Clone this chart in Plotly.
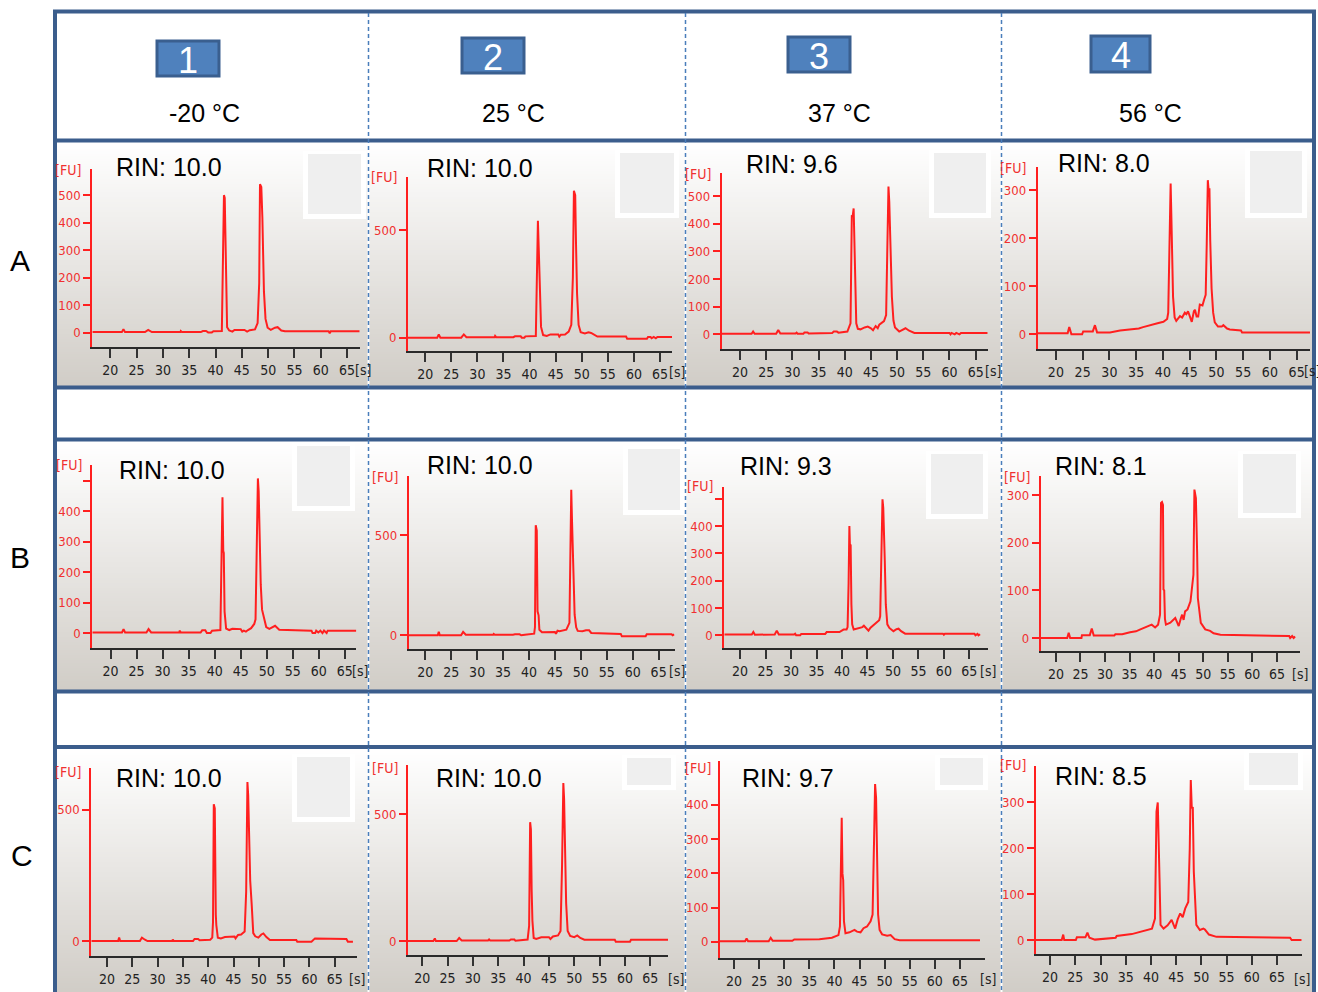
import base64, struct, zlib
import plotly.graph_objects as go

W, H = 1318, 992

# ---------------- data ----------------
row_labels = ["A", "B", "C"]
col_numbers = ["1", "2", "3", "4"]
temperatures = ["-20 °C", "25 °C", "37 °C", "56 °C"]
rin_values = {
    "A1": "10.0", "A2": "10.0", "A3": "9.6", "A4": "8.0",
    "B1": "10.0", "B2": "10.0", "B3": "9.3", "B4": "8.1",
    "C1": "10.0", "C2": "10.0", "C3": "9.7", "C4": "8.5",
}
x_tick_values = [20, 25, 30, 35, 40, 45, 50, 55, 60, 65]
y_tick_values = {
    "A1": [0, 100, 200, 300, 400, 500], "A2": [0, 500], "A3": [0, 100, 200, 300, 400, 500], "A4": [0, 100, 200, 300],
    "B1": [0, 100, 200, 300, 400, 500], "B2": [0, 500], "B3": [0, 100, 200, 300, 400, 500], "B4": [0, 100, 200, 300],
    "C1": [0, 500], "C2": [0, 500], "C3": [0, 100, 200, 300, 400], "C4": [0, 100, 200, 300],
}
y_tick_text = {
    "B1": ["0", "100", "200", "300", "400", ""],
    "B3": ["0", "100", "200", "300", "400", ""],
}

# electropherograms: (time [s], fluorescence [FU])
trace_A1 = [(16.6,2),(22.2,2),(22.5,13),(22.8,2),(26.6,2),(27.2,10),(27.9,2),(33.3,2),(33.4,6),(33.6,2),
            (37.2,2),(37.6,6),(38.2,6),(38.6,1),(39.3,1),(39.6,5),(41.2,6),(41.4,260),(41.6,500),(41.75,490),
            (41.85,350),(42.0,120),(42.2,20),(42.6,8),(43.2,4),(43.6,10),(45.5,10),(46.0,4),(46.5,9),(47.5,12),
            (48.0,35),(48.3,180),(48.45,540),(48.7,530),(48.9,420),(49.2,150),(49.5,50),(49.9,18),(50.5,10),
            (51.3,18),(51.8,20),(52.5,8),(53.2,5),(61.5,5),(61.7,-2),(61.9,5),(67.4,5)]
trace_A2 = [(16.7,0),(22.3,0),(22.6,15),(22.9,0),(26.9,0),(27.4,15),(27.9,2),(33.3,2),(33.4,8),(33.6,2),
            (36.9,2),(37.2,6),(38.3,6),(38.5,0),(39.0,0),(39.2,6),(41.2,8),(41.45,400),(41.6,543),(41.75,420),
            (41.85,306),(42.0,120),(42.2,50),(42.6,12),(43.3,8),(44.0,15),(45.5,15),(45.7,5),(46.0,14),(46.8,15),
            (47.5,28),(48.0,60),(48.3,280),(48.5,683),(48.75,662),(48.9,440),(49.1,206),(49.4,59),(49.8,25),
            (50.6,20),(51.3,25),(51.8,22),(52.5,10),(53.0,5),(58.5,5),(58.7,-5),(62.5,-5),(62.7,3),(63.2,3),
            (63.4,-3),(63.8,3),(64.2,-3),(64.5,3),(67.3,3)]
trace_A3 = [(16.5,2),(22.2,2),(22.5,10),(22.8,2),(26.9,2),(27.3,16),(27.7,3),(30.6,3),(30.8,6),(31.0,2),
            (32.1,2),(32.3,7),(32.9,7),(33.1,3),(37.6,5),(37.9,10),(38.5,10),(38.8,6),(40.5,10),(41.1,40),
            (41.35,430),(41.5,425),(41.7,455),(41.85,280),(42.0,166),(42.2,40),(42.5,20),(43.0,18),(43.8,25),
            (44.4,28),(45.0,22),(45.4,15),(45.9,30),(46.3,22),(46.6,35),(46.9,40),(47.5,48),(47.9,70),(48.2,410),
            (48.35,534),(48.5,480),(48.65,380),(48.8,281),(49.0,136),(49.3,50),(49.6,25),(50.4,10),(51.2,20),
            (51.6,22),(52.3,13),(53.3,5),(60.0,5),(60.2,0),(60.4,5),(61.0,0),(61.3,5),(61.9,0),(62.2,5),(67.3,5)]
trace_A4 = [(16.6,2),(22.2,2),(22.5,15),(22.9,0),(24.9,0),(25.1,6),(26.9,6),(27.3,19),(27.7,4),(30.1,4),
            (32.0,8),(34.5,10),(35.5,12),(36.3,15),(37.3,18),(38.2,22),(39.0,23),(40.1,26),(40.8,32),(41.0,45),
            (41.2,196),(41.45,314),(41.6,238),(41.75,150),(41.9,78),(42.2,35),(42.5,28),(43.2,38),(43.6,35),
            (44.1,45),(44.4,42),(44.7,48),(45.1,35),(45.4,26),(45.8,48),(46.0,51),(46.3,37),(46.6,37),(46.9,62),
            (47.4,60),(47.7,72),(48.0,82),(48.2,189),(48.4,321),(48.55,300),(48.7,304),(48.85,196),(49.1,96),
            (49.4,45),(49.7,25),(50.3,16),(51.0,16),(51.3,19),(52.0,12),(52.5,10),(54.6,8),(54.8,4),(67.5,4)]
trace_B1 = [(16.5,2),(22.2,2),(22.5,13),(22.8,2),(26.9,2),(27.3,13),(27.8,2),(33.2,2),(33.3,8),(33.5,2),
            (37.3,2),(37.6,9),(38.2,9),(38.5,0),(39.2,0),(39.5,8),(41.1,10),(41.3,290),(41.5,446),(41.65,270),
            (41.75,263),(41.9,71),(42.2,15),(42.8,10),(43.4,14),(45.0,13),(45.3,5),(45.6,8),(46.0,5),(46.4,10),
            (47.0,16),(47.6,30),(47.85,45),(48.05,247),(48.3,508),(48.45,466),(48.6,307),(48.85,159),(49.1,77),
            (49.5,49),(49.9,20),(50.5,14),(51.2,22),(51.6,24),(52.4,11),(58.6,8),(58.8,0),(59.3,0),(59.5,8),
            (59.9,2),(60.3,8),(60.7,0),(61.0,8),(61.5,0),(61.7,8),(67.2,8)]
trace_B2 = [(16.8,0),(22.4,0),(22.6,17),(22.8,0),(26.9,0),(27.3,17),(27.8,3),(33.1,3),(33.2,7),(33.4,3),
            (36.9,3),(37.3,5),(38.2,5),(38.5,0),(39.2,3),(41.0,8),(41.15,40),(41.3,550),(41.5,523),(41.65,120),
            (41.85,100),(42.0,28),(42.5,15),(43.6,17),(45.0,17),(45.2,8),(45.5,23),(45.9,20),(46.3,23),(47.2,28),
            (47.8,62),(48.0,653),(48.15,728),(48.3,570),(48.45,400),(48.6,287),(48.8,103),(49.1,40),(49.4,22),
            (50.3,20),(51.0,25),(51.6,25),(52.0,12),(57.7,7),(57.9,-5),(62.5,-5),(62.7,5),(67.5,5),(67.7,0),(68.0,5)]
trace_B3 = [(16.9,3),(22.3,3),(22.6,12),(22.9,2),(26.8,3),(27.2,17),(27.6,3),(30.6,3),(30.8,6),(31.0,0),
            (31.8,0),(32.0,5),(36.7,5),(37.0,12),(39.5,12),(40.3,21),(40.9,21),(41.1,30),(41.3,192),(41.45,400),
            (41.55,333),(41.7,330),(41.85,113),(42.0,40),(42.3,21),(43.3,27),(44.0,30),(44.3,35),(44.8,25),
            (45.2,17),(45.6,28),(45.9,33),(46.4,40),(46.9,51),(47.3,55),(47.5,70),(47.75,253),(47.95,498),
            (48.1,467),(48.25,280),(48.4,272),(48.6,113),(48.9,40),(49.3,27),(50.1,15),(50.7,22),(51.1,24),
            (51.6,15),(52.1,9),(52.4,6),(59.8,6),(60.0,2),(60.2,6),(66.0,6),(66.2,0),(66.6,5),(66.8,0),(67.1,4)]
trace_B4 = [(16.9,0),(22.3,0),(22.6,11),(22.9,0),(25.2,0),(25.3,6),(26.9,6),(27.3,20),(27.7,5),(31.9,5),
            (32.1,8),(33.5,8),(35.1,12),(36.3,14),(37.2,18),(38.3,22),(38.9,25),(39.5,28),(40.2,22),(40.8,28),
            (41.2,49),(41.4,284),(41.6,286),(41.8,280),(41.9,102),(42.05,100),(42.2,40),(42.4,28),(43.3,32),
            (44.0,38),(44.3,42),(44.6,35),(45.0,25),(45.4,40),(45.7,49),(46.0,38),(46.3,56),(46.8,60),(47.4,77),
            (48.0,133),(48.2,312),(48.5,294),(48.6,182),(48.75,182),(48.9,84),(49.2,50),(49.5,32),(50.4,18),
            (51.0,17),(51.4,15),(52.1,10),(53.5,7),(67.5,4),(67.7,0),(68.1,4),(68.4,0),(68.7,3)]
trace_C1 = [(16.9,0),(22.2,0),(22.4,13),(22.6,0),(26.5,0),(26.9,13),(27.5,5),(28.0,0),(32.9,0),(33.0,6),
            (33.2,0),(37.0,0),(37.3,8),(38.0,8),(38.3,3),(40.4,5),(40.8,13),(40.95,74),(41.1,522),(41.3,506),
            (41.5,100),(41.6,61),(41.9,13),(42.5,10),(43.3,15),(45.2,17),(45.4,10),(45.9,23),(46.5,25),(47.2,36),
            (47.5,188),(47.75,606),(47.9,557),(48.1,328),(48.3,230),(48.6,137),(48.9,30),(49.3,18),(49.9,13),
            (50.5,25),(50.9,29),(51.5,15),(52.2,4),(57.4,4),(57.6,-3),(60.4,-3),(60.6,2),(61.1,10),(67.3,8),
            (67.6,-3),(68.6,-3)]
trace_C2 = [(17.2,0),(22.2,0),(22.5,10),(22.7,0),(26.8,0),(27.3,12),(27.8,2),(33.0,2),(33.2,6),(33.4,2),
            (37.2,2),(37.5,6),(38.2,6),(38.4,1),(40.8,6),(41.1,60),(41.3,468),(41.45,440),(41.6,200),(41.75,80),
            (42.0,12),(42.5,8),(43.5,15),(45.0,15),(45.3,8),(45.8,18),(46.8,22),(47.3,40),(47.6,300),(47.85,622),
            (48.0,560),(48.2,300),(48.4,150),(48.7,40),(49.2,20),(50.0,15),(50.6,22),(51.2,12),(52.0,5),(58.0,5),
            (58.2,-3),(61.0,-3),(61.2,5),(68.5,5)]
trace_C3 = [(17.2,2),(22.2,2),(22.5,10),(22.8,2),(26.9,2),(27.3,12),(27.7,3),(31.6,3),(32.0,7),(37.0,8),
            (39.5,12),(40.8,20),(41.1,45),(41.3,330),(41.45,362),(41.6,200),(41.75,180),(41.9,60),(42.2,25),
            (43.0,28),(44.0,35),(44.5,30),(45.2,28),(45.8,40),(46.5,45),(47.2,60),(47.6,80),(47.9,300),(48.1,461),
            (48.3,420),(48.5,200),(48.7,80),(49.0,35),(49.5,22),(50.5,18),(51.2,20),(52.0,8),(53.0,5),(69.0,5)]
trace_C4 = [(17.2,0),(22.3,0),(22.6,12),(22.8,0),(25.1,0),(25.3,6),(27.0,6),(27.4,16),(27.8,5),(28.9,1),
            (33.0,5),(33.2,9),(36.2,13),(38.5,20),(40.2,25),(40.8,47),(41.1,280),(41.35,300),(41.5,200),
            (41.7,134),(41.9,33),(42.5,25),(43.3,32),(43.8,40),(44.1,44),(44.8,25),(45.3,45),(45.8,58),(46.3,50),
            (46.8,69),(47.4,83),(47.7,200),(47.9,349),(48.1,287),(48.3,290),(48.5,149),(48.8,60),(49.0,33),
            (49.7,22),(50.4,25),(50.7,23),(51.5,12),(53.0,7),(67.6,5),(67.9,0),(69.9,0)]

TRACES = {"A1": trace_A1, "A2": trace_A2, "A3": trace_A3, "A4": trace_A4,
          "B1": trace_B1, "B2": trace_B2, "B3": trace_B3, "B4": trace_B4,
          "C1": trace_C1, "C2": trace_C2, "C3": trace_C3, "C4": trace_C4}

# ---------------- layout (pixel geometry of each panel) ----------------
# box = (left, right, bottom, top) px of the axes; xr/yr = axis ranges
PANELS = {
    "A1": dict(box=(92.3, 359.7, 346.7, 169.3), xr=(16.58, 67.4), yr=(-51, 594), rin=(114, 167), sq=(303, 151, 366, 219), fu=(68, 170), s=(363, 370)),
    "A2": dict(box=(408, 672, 351, 176.7), xr=(16.7, 67.3), yr=(-62, 748), rin=(425, 168), sq=(615, 150, 679, 218), fu=(384, 177), s=(677, 372)),
    "A3": dict(box=(721.7, 987.7, 349, 173.3), xr=(16.5, 67.3), yr=(-53, 582), rin=(744, 164), sq=(929, 150, 991, 218), fu=(698, 174), s=(993, 371)),
    "A4": dict(box=(1037.7, 1310, 349, 166.7), xr=(16.6, 67.5), yr=(-30.6, 349), rin=(1056, 163), sq=(1245, 148, 1307, 218), fu=(1013, 168), s=(1312, 371)),
    "B1": dict(box=(92.3, 356.3, 648, 464.7), xr=(16.5, 67.2), yr=(-49, 553), rin=(117, 470), sq=(292, 443, 355, 511), fu=(69, 465), s=(360, 671)),
    "B2": dict(box=(408.7, 674.7, 648.7, 476.3), xr=(16.8, 68.1), yr=(-67, 795), rin=(425, 465), sq=(623, 446, 685, 515), fu=(385, 477), s=(677, 671)),
    "B3": dict(box=(724.3, 987.7, 648, 487.3), xr=(16.9, 68.6), yr=(-46.6, 542), rin=(738, 466), sq=(926, 451, 988, 519), fu=(700, 486), s=(988, 671)),
    "B4": dict(box=(1040.7, 1300, 651.3, 476.3), xr=(16.9, 69.7), yr=(-28, 340), rin=(1053, 466), sq=(1238, 451, 1301, 518), fu=(1017, 477), s=(1300, 674)),
    "C1": dict(box=(91.3, 357, 955.7, 767.7), xr=(16.9, 69.4), yr=(-56, 661), rin=(114, 778), sq=(292, 754, 355, 822), fu=(68, 772), s=(357, 979)),
    "C2": dict(box=(408, 668, 955, 765), xr=(17.2, 68.5), yr=(-55, 693), rin=(434, 778), sq=(622, 755, 676, 790), fu=(385, 768), s=(676, 979)),
    "C3": dict(box=(720, 985, 958, 761), xr=(17.2, 70.0), yr=(-47, 528), rin=(740, 778), sq=(935, 755, 988, 790), fu=(698, 768), s=(988, 979)),
    "C4": dict(box=(1036, 1301.7, 954.3, 765.7), xr=(17.2, 69.9), yr=(-31, 380), rin=(1053, 776), sq=(1244, 750, 1303, 790), fu=(1013, 765), s=(1302, 979)),
}
ROW_Y = {"A": (142, 386), "B": (442, 690), "C": (749, 992)}
COL_X = {"1": (57, 367.5), "2": (369.5, 684.5), "3": (686.5, 1000.5), "4": (1002.5, 1312)}
HEADER_BOX = [(157, 41, 219, 76), (462, 38, 524, 73), (788, 37, 850, 72), (1091, 36, 1150, 72)]
TEMP_X = [204, 513, 839, 1150]
ROW_LABEL_POS = {"A": (20, 260), "B": (20, 557), "C": (22, 855)}

FRAME = "#3b5d8c"
RED = "#ff1f1f"
TICKFONT = "DejaVu Sans Condensed, Liberation Sans Narrow, sans-serif"
TEXTFONT = "Liberation Sans, Arial, sans-serif"


def px(x):
    return x / W


def py(y):
    return 1 - y / H


def gradient_png(top, bottom, n=96):
    raw = b""
    for i in range(n):
        t = i / (n - 1)
        raw += b"\x00" + bytes([round(top[k] + (bottom[k] - top[k]) * t) for k in range(3)])

    def chunk(tag, data):
        return struct.pack(">I", len(data)) + tag + data + struct.pack(">I", zlib.crc32(tag + data) & 0xFFFFFFFF)

    png = (b"\x89PNG\r\n\x1a\n" + chunk(b"IHDR", struct.pack(">IIBBBBB", 1, n, 8, 2, 0, 0, 0))
           + chunk(b"IDAT", zlib.compress(raw)) + chunk(b"IEND", b""))
    return "data:image/png;base64," + base64.b64encode(png).decode()


GRAD = gradient_png((255, 255, 255), (209, 205, 199))

fig = go.Figure()
layout = dict(width=W, height=H, margin=dict(l=0, r=0, t=0, b=0), paper_bgcolor="white",
              plot_bgcolor="rgba(0,0,0,0)", showlegend=False)
shapes, annotations, images = [], [], []

# panel backgrounds
for r, (y0, y1) in ROW_Y.items():
    for c, (x0, x1) in COL_X.items():
        images.append(dict(source=GRAD, xref="paper", yref="paper", x=px(x0), y=py(y0),
                           sizex=px(x1) - px(x0), sizey=py(y0) - py(y1), sizing="stretch",
                           xanchor="left", yanchor="top", layer="below"))

for i, key in enumerate(PANELS, start=1):
    p = PANELS[key]
    left, right, bottom, top = p["box"]
    pts = TRACES[key]
    xs = [a for a, _ in pts]
    ys = [b for _, b in pts]
    xa, ya = f"x{i}", f"y{i}"
    fig.add_trace(go.Scatter(x=xs, y=ys, mode="lines", line=dict(color=RED, width=2),
                             xaxis=xa, yaxis=ya, hoverinfo="skip"))
    layout[f"xaxis{i}"] = dict(domain=[px(left), px(right)], range=list(p["xr"]), anchor=ya,
                               showline=True, linecolor="#2a2a2a", linewidth=2, showgrid=False, zeroline=False,
                               ticks="outside", ticklen=9, tickwidth=2, tickcolor="#333333",
                               tickvals=x_tick_values, ticktext=[str(v) for v in x_tick_values],
                               tickfont=dict(family=TICKFONT, size=14, color="#222222"), fixedrange=True)
    yt = y_tick_values[key]
    layout[f"yaxis{i}"] = dict(domain=[py(bottom), py(top)], range=list(p["yr"]), anchor=xa,
                               showline=True, linecolor=RED, linewidth=2, showgrid=False, zeroline=False,
                               ticks="outside", ticklen=7, tickwidth=2, tickcolor=RED,
                               tickvals=yt, ticktext=y_tick_text.get(key, [str(v) for v in yt]),
                               tickfont=dict(family=TICKFONT, size=13, color="#f03030"), fixedrange=True)
    # RIN label
    rx, ry = p["rin"]
    annotations.append(dict(text=f"RIN: {rin_values[key]}", xref="paper", yref="paper", x=px(rx), y=py(ry),
                            xanchor="left", yanchor="middle", showarrow=False,
                            font=dict(family=TEXTFONT, size=25, color="black")))
    # [FU] and [s]
    fx, fy = p["fu"]
    annotations.append(dict(text="[FU]", xref="paper", yref="paper", x=px(fx), y=py(fy), xanchor="center",
                            yanchor="middle", showarrow=False, font=dict(family=TICKFONT, size=14, color="#f03030")))
    sx, sy = p["s"]
    annotations.append(dict(text="[s]", xref="paper", yref="paper", x=px(sx), y=py(sy), xanchor="center",
                            yanchor="middle", showarrow=False, font=dict(family=TICKFONT, size=14, color="#222222")))
    # inset square
    x0, y0, x1, y1 = p["sq"]
    shapes.append(dict(type="rect", xref="paper", yref="paper", x0=px(x0), x1=px(x1), y0=py(y0), y1=py(y1),
                       fillcolor="white", line=dict(width=0), layer="above"))
    shapes.append(dict(type="rect", xref="paper", yref="paper", x0=px(x0 + 5), x1=px(x1 - 5), y0=py(y0 + 3),
                       y1=py(y1 - 5), fillcolor="#efefef", line=dict(width=0), layer="above"))

# header
for k, (x0, y0, x1, y1) in enumerate(HEADER_BOX):
    shapes.append(dict(type="rect", xref="paper", yref="paper", x0=px(x0), x1=px(x1), y0=py(y0), y1=py(y1),
                       fillcolor="#4f81bd", line=dict(color="#3a5f8f", width=3), layer="above"))
    annotations.append(dict(text=col_numbers[k], xref="paper", yref="paper", x=px((x0 + x1) / 2),
                            y=py((y0 + y1) / 2 + 2), xanchor="center", yanchor="middle", showarrow=False,
                            font=dict(family=TEXTFONT, size=36, color="white")))
    annotations.append(dict(text=temperatures[k], xref="paper", yref="paper", x=px(TEMP_X[k]), y=py(113),
                            xanchor="center", yanchor="middle", showarrow=False,
                            font=dict(family=TEXTFONT, size=25, color="black")))
for r, (lx, ly) in ROW_LABEL_POS.items():
    annotations.append(dict(text=r, xref="paper", yref="paper", x=px(lx), y=py(ly), xanchor="center",
                            yanchor="middle", showarrow=False, font=dict(family=TEXTFONT, size=30, color="black")))

# frame lines
for yy in [11.5, 140.5, 387.5, 439.5, 691.5, 747]:
    shapes.append(dict(type="line", xref="paper", yref="paper", x0=px(53), x1=px(1316), y0=py(yy), y1=py(yy),
                       line=dict(color=FRAME, width=4), layer="above"))
for xx in [55, 1314]:
    shapes.append(dict(type="line", xref="paper", yref="paper", x0=px(xx), x1=px(xx), y0=py(10), y1=py(992),
                       line=dict(color=FRAME, width=4), layer="above"))
for xx in [368.5, 685.5, 1001.5]:
    shapes.append(dict(type="line", xref="paper", yref="paper", x0=px(xx), x1=px(xx), y0=py(13), y1=py(992),
                       line=dict(color="#4a7ebb", width=1.5, dash="4px,3px"), layer="above"))

layout["shapes"] = shapes
layout["annotations"] = annotations
layout["images"] = images
fig.update_layout(**layout)
fig.write_html("out.html", config={"displayModeBar": False, "staticPlot": True},
               post_script="document.body.style.margin='0';document.body.style.padding='0';")
